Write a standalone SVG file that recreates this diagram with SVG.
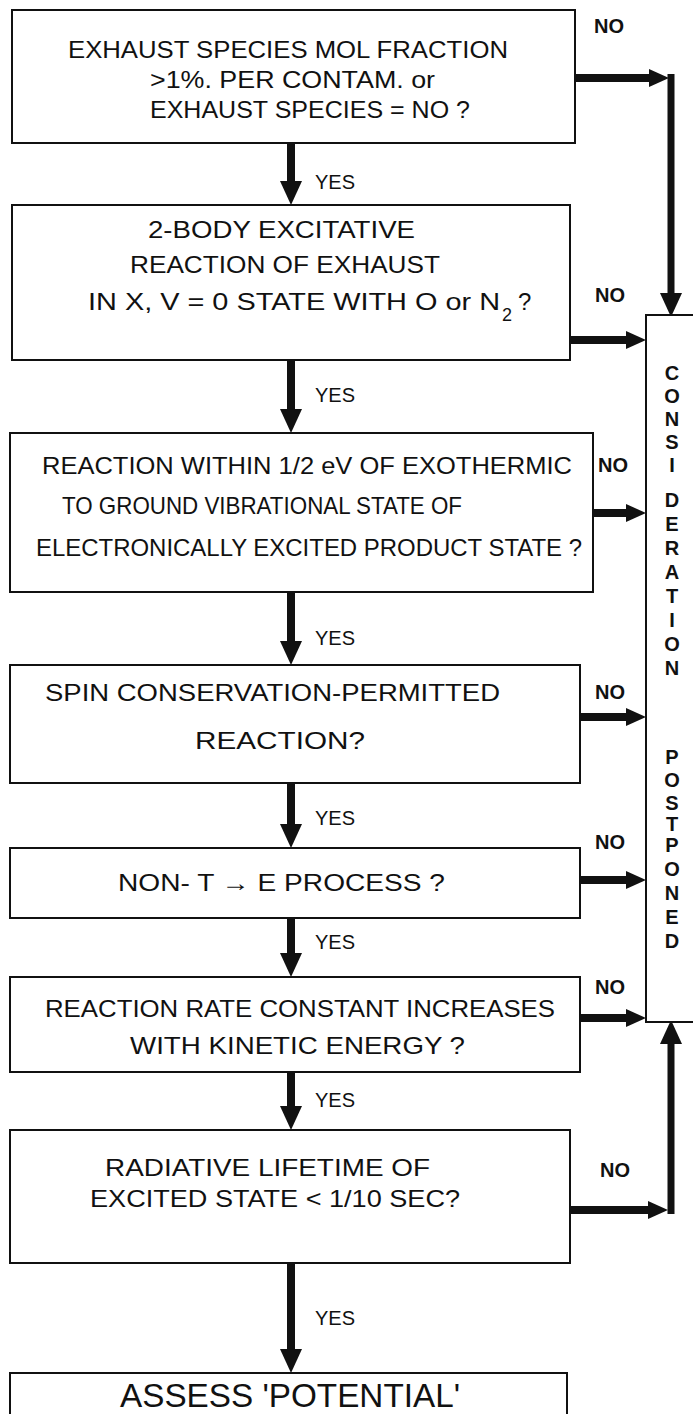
<svg xmlns="http://www.w3.org/2000/svg" width="693" height="1414" viewBox="0 0 693 1414">
<defs>
<style>
.box{fill:#fff;stroke:#111;stroke-width:2}
.t{font-family:"Liberation Sans",Arial,sans-serif;font-size:24px;fill:#111}
.lbl{font-family:"Liberation Sans",Arial,sans-serif;font-size:20px;fill:#111}
.no{font-family:"Liberation Sans",Arial,sans-serif;font-size:20px;font-weight:bold;fill:#111}
.v{font-family:"Liberation Sans",Arial,sans-serif;font-size:20px;font-weight:bold;fill:#111;text-anchor:middle}
.big{font-family:"Liberation Sans",Arial,sans-serif;font-size:33px;fill:#111}
.sh{stroke:#111;stroke-width:8;fill:none}
.ln{stroke:#111;stroke-width:7;fill:none}
</style>
<marker id="hd" markerWidth="24" markerHeight="22" refX="0" refY="11" orient="auto" markerUnits="userSpaceOnUse"><path d="M0,0 L24,11 L0,22 z" fill="#111"/></marker>
<marker id="hh" markerWidth="20" markerHeight="18" refX="0" refY="9" orient="auto" markerUnits="userSpaceOnUse"><path d="M0,0 L20,9 L0,18 z" fill="#111"/></marker>
</defs>
<rect width="693" height="1414" fill="#fff"/>

<g id="connectors">
<line class="sh" x1="291" y1="143" x2="291" y2="181" marker-end="url(#hd)"/>
<line class="sh" x1="291" y1="360" x2="291" y2="409" marker-end="url(#hd)"/>
<line class="sh" x1="291" y1="592" x2="291" y2="641" marker-end="url(#hd)"/>
<line class="sh" x1="291" y1="783" x2="291" y2="824" marker-end="url(#hd)"/>
<line class="sh" x1="291" y1="918" x2="291" y2="953" marker-end="url(#hd)"/>
<line class="sh" x1="291" y1="1072" x2="291" y2="1106" marker-end="url(#hd)"/>
<line class="sh" x1="291" y1="1263" x2="291" y2="1349" marker-end="url(#hd)"/>
<line class="sh" x1="575" y1="78" x2="649" y2="78" marker-end="url(#hh)"/>
<line class="ln" x1="671" y1="74" x2="671" y2="293" marker-end="url(#hd)"/>
<line class="sh" x1="570" y1="340" x2="626" y2="340" marker-end="url(#hh)"/>
<line class="sh" x1="593" y1="513" x2="626" y2="513" marker-end="url(#hh)"/>
<line class="sh" x1="580" y1="717" x2="626" y2="717" marker-end="url(#hh)"/>
<line class="sh" x1="580" y1="880" x2="626" y2="880" marker-end="url(#hh)"/>
<line class="sh" x1="580" y1="1018" x2="626" y2="1018" marker-end="url(#hh)"/>
<line class="sh" x1="570" y1="1210" x2="648" y2="1210" marker-end="url(#hh)"/>
<line class="ln" x1="671" y1="1214" x2="671" y2="1044" marker-end="url(#hd)"/>
<text class="lbl" x="315" y="189">YES</text>
<text class="lbl" x="315" y="402">YES</text>
<text class="lbl" x="315" y="645">YES</text>
<text class="lbl" x="315" y="825">YES</text>
<text class="lbl" x="315" y="949">YES</text>
<text class="lbl" x="315" y="1107">YES</text>
<text class="lbl" x="315" y="1325">YES</text>
<text class="no" x="594" y="33">NO</text>
<text class="no" x="595" y="302">NO</text>
<text class="no" x="598" y="472">NO</text>
<text class="no" x="595" y="699">NO</text>
<text class="no" x="595" y="849">NO</text>
<text class="no" x="595" y="994">NO</text>
<text class="no" x="600" y="1177">NO</text>
</g>

<g id="n1">
<rect class="box" x="12" y="10" width="563" height="133"/>
<text class="t" x="68" y="58" textLength="440" lengthAdjust="spacingAndGlyphs">EXHAUST SPECIES MOL FRACTION</text>
<text class="t" x="150" y="88" textLength="285" lengthAdjust="spacingAndGlyphs">&gt;1%. PER CONTAM. or</text>
<text class="t" x="150" y="118" textLength="320" lengthAdjust="spacingAndGlyphs">EXHAUST SPECIES = NO ?</text>
</g>

<g id="n2">
<rect class="box" x="12" y="205" width="558" height="155"/>
<text class="t" x="148" y="238" textLength="267" lengthAdjust="spacingAndGlyphs">2-BODY EXCITATIVE</text>
<text class="t" x="130" y="273" textLength="310" lengthAdjust="spacingAndGlyphs">REACTION OF EXHAUST</text>
<text class="t" x="88" y="310" textLength="412" lengthAdjust="spacingAndGlyphs">IN X, V = 0 STATE WITH O or N</text>
<text class="t" x="502" y="321" style="font-size:18px">2</text>
<text class="t" x="518" y="310">?</text>
</g>

<g id="n3">
<rect class="box" x="10" y="433" width="583" height="159"/>
<text class="t" x="42" y="474" textLength="530" lengthAdjust="spacingAndGlyphs">REACTION WITHIN 1/2 eV OF EXOTHERMIC</text>
<text class="t" x="62" y="514" textLength="400" lengthAdjust="spacingAndGlyphs">TO GROUND VIBRATIONAL STATE OF</text>
<text class="t" x="36" y="556" textLength="546" lengthAdjust="spacingAndGlyphs">ELECTRONICALLY EXCITED PRODUCT STATE ?</text>
</g>

<g id="n4">
<rect class="box" x="10" y="665" width="570" height="118"/>
<text class="t" x="45" y="701" textLength="455" lengthAdjust="spacingAndGlyphs">SPIN CONSERVATION-PERMITTED</text>
<text class="t" x="195" y="749" textLength="170" lengthAdjust="spacingAndGlyphs">REACTION?</text>
</g>

<g id="n5">
<rect class="box" x="10" y="848" width="570" height="70"/>
<text class="t" x="118" y="891" textLength="327" lengthAdjust="spacingAndGlyphs">NON- T → E PROCESS ?</text>
</g>

<g id="n6">
<rect class="box" x="10" y="977" width="570" height="95"/>
<text class="t" x="45" y="1017" textLength="510" lengthAdjust="spacingAndGlyphs">REACTION RATE CONSTANT INCREASES</text>
<text class="t" x="130" y="1054" textLength="335" lengthAdjust="spacingAndGlyphs">WITH KINETIC ENERGY ?</text>
</g>

<g id="n7">
<rect class="box" x="10" y="1130" width="560" height="133"/>
<text class="t" x="105" y="1176" textLength="325" lengthAdjust="spacingAndGlyphs">RADIATIVE LIFETIME OF</text>
<text class="t" x="90" y="1207" textLength="370" lengthAdjust="spacingAndGlyphs">EXCITED STATE &lt; 1/10 SEC?</text>
</g>

<g id="n8">
<rect class="box" x="10" y="1373" width="557" height="60"/>
<text class="big" x="120" y="1407" textLength="340" lengthAdjust="spacingAndGlyphs">ASSESS 'POTENTIAL'</text>
</g>

<g id="n9">
<rect class="box" x="646" y="315" width="60" height="707"/>
<text class="v"><tspan x="672" y="380">C</tspan><tspan x="672" y="403">O</tspan><tspan x="672" y="426">N</tspan><tspan x="672" y="449">S</tspan><tspan x="672" y="472">I</tspan><tspan x="672" y="507">D</tspan><tspan x="672" y="531">E</tspan><tspan x="672" y="555">R</tspan><tspan x="672" y="579">A</tspan><tspan x="672" y="603">T</tspan><tspan x="672" y="627">I</tspan><tspan x="672" y="651">O</tspan><tspan x="672" y="675">N</tspan></text>
<text class="v"><tspan x="672" y="764">P</tspan><tspan x="672" y="787">O</tspan><tspan x="672" y="810">S</tspan><tspan x="672" y="831">T</tspan><tspan x="672" y="852">P</tspan><tspan x="672" y="876">O</tspan><tspan x="672" y="900">N</tspan><tspan x="672" y="924">E</tspan><tspan x="672" y="948">D</tspan></text>
</g>
</svg>
